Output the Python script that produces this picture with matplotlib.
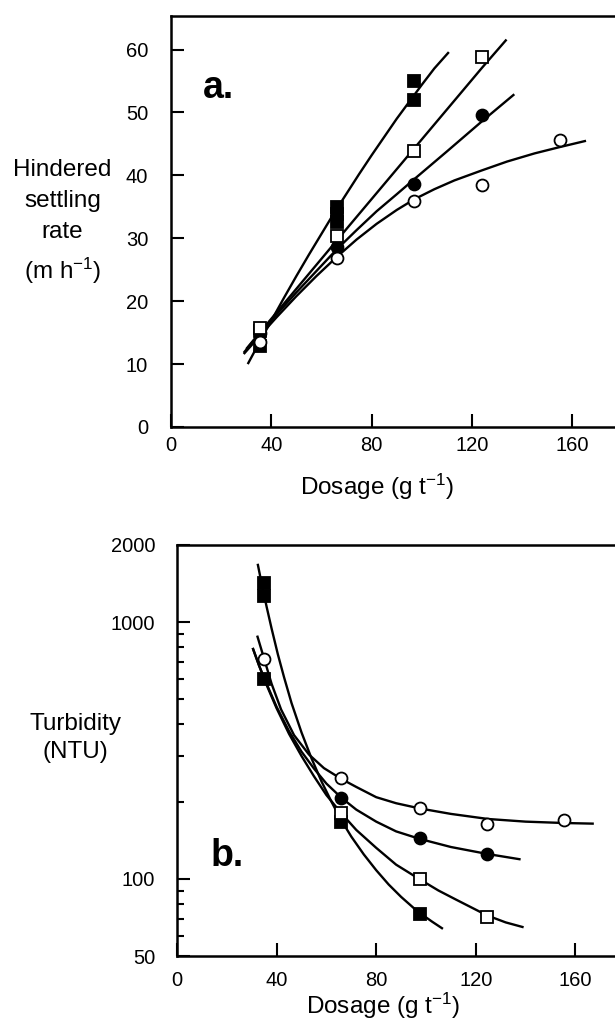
import numpy as np
import matplotlib
matplotlib.use("Agg")
import matplotlib.pyplot as plt
from matplotlib.ticker import FixedLocator, NullFormatter

plt.rcParams['font.family'] = ['Liberation Sans', 'DejaVu Sans']
plt.rcParams['mathtext.fontset'] = 'custom'
plt.rcParams['mathtext.rm'] = 'Liberation Sans'
plt.rcParams['mathtext.it'] = 'Liberation Sans:italic'
plt.rcParams['mathtext.bf'] = 'Liberation Sans:bold'

# ---------------- Panel a: hindered settling rate (m/h) ----------------
a_fs_x = [35.5, 35.5, 66, 66, 66, 97, 97]
a_fs_y = [15.2, 12.8, 35.0, 33.8, 32.6, 55.0, 52.0]
a_fc_x = [35.5, 66, 97, 124]
a_fc_y = [15.0, 28.6, 38.7, 49.6]
a_os_x = [35.5, 66, 97, 124]
a_os_y = [15.8, 30.4, 43.9, 58.9]
a_oc_x = [35.5, 66, 97, 124, 155]
a_oc_y = [13.5, 26.8, 35.9, 38.5, 45.7]

# fitted curves
a_fs_cx = [30.6, 36, 40, 45, 50, 55, 60, 65, 70, 75, 80, 85, 90, 95, 100, 105, 110.8]
a_fs_cy = [10.0, 14.0, 16.9, 20.5, 24.0, 27.4, 30.7, 34.0, 37.1, 40.2, 43.2, 46.1, 49.0, 51.7, 54.4, 57.0, 59.6]
a_os_cx = [30, 36, 66, 97, 124, 133.8]
a_os_cy = [12.4, 15.3, 29.6, 44.3, 57.1, 61.6]
a_fc_cx = [29, 33, 36, 43, 50, 58, 66, 74, 82, 90, 97, 110, 124, 136.9]
a_fc_cy = [11.8, 13.75, 15.2, 18.3, 21.4, 24.8, 28.2, 31.3, 34.3, 37.0, 39.4, 43.8, 48.6, 52.9]
a_oc_cx = [29, 33, 36, 42, 50, 58, 66, 74, 82, 90, 97, 105, 113, 124, 134, 145, 155, 165.5]
a_oc_cy = [11.6, 13.4, 14.75, 17.4, 20.8, 24.0, 27.0, 29.8, 32.3, 34.5, 36.2, 37.8, 39.2, 40.8, 42.2, 43.5, 44.5, 45.5]

# ---------------- Panel b: turbidity (NTU) ----------------
b_fs_x = [35, 35, 35, 66, 97.5]
b_fs_y = [1420, 1270, 600, 167, 73]
b_fc_x = [66, 97.5, 124.5]
b_fc_y = [207, 144, 124.5]
b_os_x = [66, 97.5, 124.5]
b_os_y = [181, 99.5, 71]
b_oc_x = [35, 66, 97.5, 124.5, 155.5]
b_oc_y = [718, 248, 189, 164, 169]

b_fs_cx = [32.4, 34, 36, 38, 40.5, 43, 46, 50, 54, 58, 62, 66, 70, 75, 80, 85, 90, 95, 98, 102.5, 106.8]
b_fs_cy = [1690, 1413, 1148, 944, 750, 610, 484, 372, 295, 240, 200, 169, 146, 124.5, 108, 95, 85, 77, 73, 68, 63.8]
b_oc_cx = [32.2, 35, 38, 41.8, 47, 53, 59, 66, 72, 80, 88, 97.5, 110, 125, 140, 155, 167.4]
b_oc_cy = [887, 720, 575, 457, 363, 305, 270, 245, 228, 208, 197, 188, 179, 171, 167, 165, 164]
b_fc_cx = [30.4, 33, 36, 40, 45, 50, 55, 60, 66, 72, 80, 88, 97.5, 110, 124.5, 138]
b_fc_cy = [794, 676, 575, 468, 376, 313, 269, 235, 207, 186, 167, 153, 143, 133, 125, 119]
b_os_cx = [30.4, 33, 36, 40, 45, 50, 55, 60, 66, 72, 80, 88, 97.5, 105, 112, 124.5, 132, 139.2]
b_os_cy = [794, 676, 569, 462, 367, 301, 251, 212, 180, 155, 132, 113.5, 99.5, 90, 83, 72, 67.6, 64.7]

x_ticks = [0, 40, 80, 120, 160]
a_y_ticks = [0, 10, 20, 30, 40, 50, 60]
b_y_ticks = [50, 100, 1000, 2000]
b_y_minor = [60, 70, 80, 90, 200, 300, 400, 500, 600, 700, 800, 900]

W, H = 615, 1023
fig = plt.figure(figsize=(W / 100, H / 100), dpi=100)

ax1 = fig.add_axes([171 / W, (H - 427) / H, 451.4 / W, 411 / H])
ax2 = fig.add_axes([177 / W, (H - 956) / H, 448.2 / W, 411 / H])

LW = 1.7
MS = 8.6
MEW = 1.3

def style_markers(ax, series):
    for xs, ys, mk, filled in series:
        ax.plot(xs, ys, ls='none', marker=mk, ms=MS, mew=MEW, mec='black',
                mfc='black' if filled else 'white', zorder=3, clip_on=False)

for ax in (ax1, ax2):
    for s in ('left', 'bottom', 'top'):
        ax.spines[s].set_linewidth(1.8)
    ax.spines['right'].set_visible(False)
    ax.set_xlim(0, 180)
    ax.set_xticks(x_ticks)
    ax.tick_params(which='major', direction='in', length=9.5, width=1.5,
                   labelsize=14.5, top=False, right=False)

# ---- Panel a ----
for cx, cy in ((a_fs_cx, a_fs_cy), (a_os_cx, a_os_cy), (a_fc_cx, a_fc_cy), (a_oc_cx, a_oc_cy)):
    ax1.plot(cx, cy, color='black', lw=LW, zorder=2, solid_capstyle='butt',
             solid_joinstyle='round')
style_markers(ax1, [(a_fs_x, a_fs_y, 's', True), (a_fc_x, a_fc_y, 'o', True),
                    (a_os_x, a_os_y, 's', False), (a_oc_x, a_oc_y, 'o', False)])
ax1.set_ylim(0, 65.34)
ax1.set_yticks(a_y_ticks)
ax1.tick_params(axis='y', pad=16.5)
ax1.tick_params(axis='x', pad=6.5)
ax1.text(12.8, 52.3, 'a.', fontsize=27, fontweight='bold', ha='left', va='baseline')

# ---- Panel b ----
ax2.set_yscale('log')
for cx, cy in ((b_fs_cx, b_fs_cy), (b_os_cx, b_os_cy), (b_fc_cx, b_fc_cy), (b_oc_cx, b_oc_cy)):
    ax2.plot(cx, cy, color='black', lw=LW, zorder=2, solid_capstyle='butt',
             solid_joinstyle='round')
style_markers(ax2, [(b_fs_x, b_fs_y, 's', True), (b_fc_x, b_fc_y, 'o', True),
                    (b_os_x, b_os_y, 's', False), (b_oc_x, b_oc_y, 'o', False)])
ax2.set_ylim(50, 2000)
ax2.yaxis.set_major_locator(FixedLocator(b_y_ticks))
ax2.set_yticklabels([str(v) for v in b_y_ticks])
ax2.yaxis.set_minor_locator(FixedLocator(b_y_minor))
ax2.yaxis.set_minor_formatter(NullFormatter())
ax2.tick_params(axis='y', which='minor', direction='in', length=5, width=1.5, right=False)
ax2.tick_params(axis='y', pad=15.8)
ax2.tick_params(axis='x', pad=10.5)
ax2.text(13.3, 112, 'b.', fontsize=27, fontweight='bold', ha='left', va='baseline')

# ---- axis labels ----
fig.text(62.5 / W, 1 - 222.5 / H, 'Hindered\nsettling\nrate\n(m h$^{-1}$)', fontsize=17.5,
         ha='center', va='center', multialignment='center', linespacing=1.55)
fig.text(75 / W, 1 - 738 / H, 'Turbidity\n(NTU)', fontsize=17.5,
         ha='center', va='center', multialignment='center', linespacing=1.35)
fig.text(377.5 / W, 1 - 495 / H, 'Dosage (g t$^{-1}$)', fontsize=17.5, ha='center', va='baseline')
fig.text(383 / W, 1 - 1014 / H, 'Dosage (g t$^{-1}$)', fontsize=17.5, ha='center', va='baseline')

fig.savefig('out.png', dpi=100)
